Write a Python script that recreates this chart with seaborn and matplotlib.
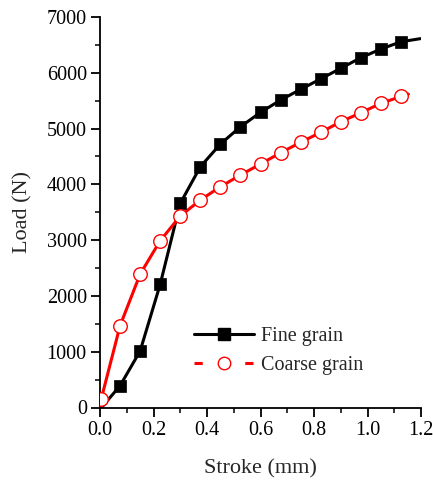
import matplotlib
matplotlib.use("Agg")
import matplotlib.pyplot as plt
from matplotlib.lines import Line2D
import seaborn as sns
import pandas as pd

# ---- data ----
fine_x = [0.075, 0.15, 0.225, 0.30, 0.375, 0.45, 0.525, 0.60, 0.675, 0.75, 0.825, 0.90, 0.975, 1.05, 1.125]
fine_y = [391, 1012, 2208, 3659, 4315, 4722, 5032, 5290, 5511, 5703, 5890, 6080, 6270, 6425, 6556]
fine_line_x = [0.006] + fine_x + [1.198]
fine_line_y = [0] + fine_y + [6612]

coarse_x = [0.005, 0.075, 0.15, 0.225, 0.30, 0.375, 0.45, 0.525, 0.60, 0.675, 0.75, 0.825, 0.90, 0.975, 1.05, 1.125]
coarse_y = [160, 1466, 2390, 2990, 3432, 3719, 3957, 4167, 4364, 4566, 4753, 4932, 5122, 5283, 5452, 5575]
coarse_line_x = coarse_x + [1.153]
coarse_line_y = coarse_y + [5618]

x_ticks = [0.0, 0.2, 0.4, 0.6, 0.8, 1.0, 1.2]
y_ticks = [0, 1000, 2000, 3000, 4000, 5000, 6000, 7000]
labels = ["Fine grain", "Coarse grain"]

sns.set_style("ticks")
plt.rcParams["font.family"] = ["Liberation Serif", "DejaVu Serif"]
plt.rcParams["mathtext.fontset"] = "stix"

fig = plt.figure(figsize=(4.33, 4.80), dpi=100)
ax = fig.add_axes([100 / 433, 72.5 / 480, 321 / 433, 390.5 / 480])

sns.lineplot(x=fine_line_x, y=fine_line_y, ax=ax, color="black", lw=2.2, sort=False, zorder=2)
sns.lineplot(x=coarse_line_x, y=coarse_line_y, ax=ax, color="#ff0000", lw=2.2, sort=False, zorder=2)
sns.scatterplot(x=fine_x, y=fine_y, ax=ax, marker="s", s=80, color="black",
                edgecolor="black", linewidth=0.5, zorder=3)
sns.scatterplot(x=coarse_x, y=coarse_y, ax=ax, marker="o", s=95, facecolor="white",
                edgecolor="#ff0000", linewidth=1.0, zorder=3)

ax.set_xlim(0, 1.2)
ax.set_ylim(0, 7000)
ax.set_xticks(x_ticks)
ax.set_xticklabels([f"{t:.1f}" for t in x_ticks])
ax.set_yticks(y_ticks)
ax.set_yticklabels([str(t) for t in y_ticks])
ax.set_xticks([0.1, 0.3, 0.5, 0.7, 0.9, 1.1], minor=True)
ax.set_yticks([500, 1500, 2500, 3500, 4500, 5500, 6500], minor=True)

ax.tick_params(axis="both", which="major", direction="out", length=6.5, width=1.3,
               labelsize=14.5, colors="black", pad=3)
ax.tick_params(axis="both", which="minor", direction="out", length=3.5, width=1.3)
for s in ["left", "bottom"]:
    ax.spines[s].set_linewidth(1.3)
    ax.spines[s].set_color("black")
sns.despine(ax=ax)

ax.set_xlabel("Stroke (mm)", fontsize=16, labelpad=14)
ax.set_ylabel("Load (N)", fontsize=16, labelpad=10)

handles = [
    Line2D([], [], color="black", lw=2.2, marker="s", markersize=8.5,
           markerfacecolor="black", markeredgecolor="black"),
    Line2D([], [], color="#ff0000", lw=2.2, linestyle=(0, (2.7, 5.6)), marker="o",
           markersize=9, markerfacecolor="white", markeredgecolor="#ff0000", markeredgewidth=1.0),
]
ax.legend(handles, labels, loc="upper left", bbox_to_anchor=(0.293, 0.207), frameon=False,
          fontsize=14.5, handlelength=3.0, handletextpad=0.3, labelspacing=0.5,
          borderaxespad=0, borderpad=0)

fig.savefig("out.png", dpi=100)
